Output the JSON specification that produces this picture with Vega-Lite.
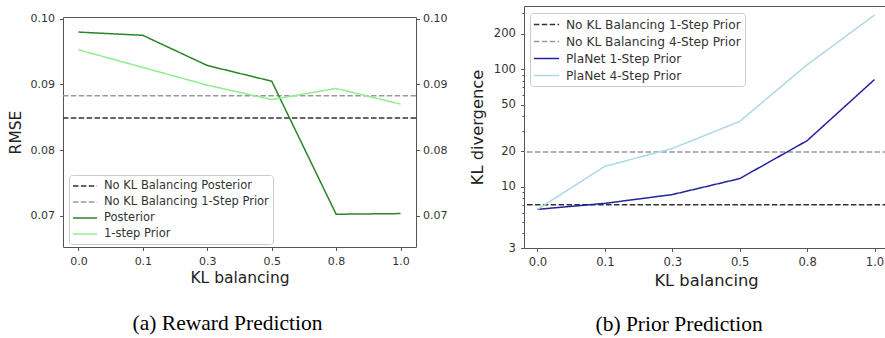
{
  "$schema": "https://vega.github.io/schema/vega-lite/v6.json",
  "padding": {"left": 7, "top": 5, "right": 0, "bottom": 0},
  "background": "white",
  "datasets": {
    "rmse_base": [
      {"series": "No KL Balancing Posterior", "value": 0.0849},
      {"series": "No KL Balancing 1-Step Prior", "value": 0.0883}
    ],
    "rmse": [
      {"series": "Posterior", "kl": "0.0", "value": 0.0980},
      {"series": "Posterior", "kl": "0.1", "value": 0.0975},
      {"series": "Posterior", "kl": "0.3", "value": 0.0929},
      {"series": "Posterior", "kl": "0.5", "value": 0.0905},
      {"series": "Posterior", "kl": "0.8", "value": 0.0702},
      {"series": "Posterior", "kl": "1.0", "value": 0.0703},
      {"series": "1-step Prior", "kl": "0.0", "value": 0.0953},
      {"series": "1-step Prior", "kl": "0.1", "value": 0.0926},
      {"series": "1-step Prior", "kl": "0.3", "value": 0.0899},
      {"series": "1-step Prior", "kl": "0.5", "value": 0.0877},
      {"series": "1-step Prior", "kl": "0.8", "value": 0.0894},
      {"series": "1-step Prior", "kl": "1.0", "value": 0.0870}
    ],
    "kl_base": [
      {"series": "No KL Balancing 1-Step Prior", "value": 7.0},
      {"series": "No KL Balancing 4-Step Prior", "value": 19.7}
    ],
    "kl": [
      {"series": "PlaNet 1-Step Prior", "kl": "0.0", "value": 6.4},
      {"series": "PlaNet 1-Step Prior", "kl": "0.1", "value": 7.2},
      {"series": "PlaNet 1-Step Prior", "kl": "0.3", "value": 8.55},
      {"series": "PlaNet 1-Step Prior", "kl": "0.5", "value": 11.7},
      {"series": "PlaNet 1-Step Prior", "kl": "0.8", "value": 24.6},
      {"series": "PlaNet 1-Step Prior", "kl": "1.0", "value": 81.6},
      {"series": "PlaNet 4-Step Prior", "kl": "0.0", "value": 6.4},
      {"series": "PlaNet 4-Step Prior", "kl": "0.1", "value": 14.9},
      {"series": "PlaNet 4-Step Prior", "kl": "0.3", "value": 21.1},
      {"series": "PlaNet 4-Step Prior", "kl": "0.5", "value": 35.9},
      {"series": "PlaNet 4-Step Prior", "kl": "0.8", "value": 109},
      {"series": "PlaNet 4-Step Prior", "kl": "1.0", "value": 289}
    ]
  },
  "spacing": 20,
  "resolve": {
    "scale": {"color": "independent", "strokeDash": "independent", "x": "independent", "y": "independent"},
    "legend": {"color": "independent", "strokeDash": "independent"}
  },
  "hconcat": [
    {
      "title": {"text": "(a) Reward Prediction", "orient": "bottom", "offset": 26},
      "spacing": 0,
      "vconcat": [
        {
          "width": 353,
          "height": 6,
          "view": {"stroke": null},
          "data": {"values": [{}]},
          "mark": {"type": "point", "opacity": 0},
          "encoding": {}
        },
        {
          "width": 353,
          "height": 230,
          "resolve": {"axis": {"y": "independent"}},
          "layer": [
            {
              "data": {"name": "rmse_base"},
              "mark": {"type": "rule", "strokeWidth": 1.5},
              "encoding": {
                "y": {"field": "value", "type": "quantitative",
                  "scale": {"domain": [0.0652, 0.1003], "zero": false, "nice": false},
                  "axis": {"orient": "left", "title": "RMSE", "values": [0.07, 0.08, 0.09, 0.1], "format": ".2f", "titlePadding": 7}},
                "color": {"field": "series", "type": "nominal",
                  "scale": {"domain": ["No KL Balancing Posterior", "No KL Balancing 1-Step Prior", "Posterior", "1-step Prior"], "range": ["#333333", "#999999", "#2a842a", "#90ee90"]},
                  "legend": {"title": null, "orient": "none", "legendX": 6, "legendY": 169}},
                "strokeDash": {"field": "series", "type": "nominal",
                  "scale": {"domain": ["No KL Balancing Posterior", "No KL Balancing 1-Step Prior", "Posterior", "1-step Prior"], "range": [[5.5, 2.4], [5.5, 2.4], [1, 0], [1, 0]]},
                  "legend": {"title": null, "orient": "none", "legendX": 6, "legendY": 169}}
              }
            },
            {
              "data": {"name": "rmse"},
              "mark": {"type": "line", "strokeWidth": 1.5},
              "encoding": {
                "x": {"field": "kl", "type": "ordinal", "sort": ["0.0", "0.1", "0.3", "0.5", "0.8", "1.0"],
                  "scale": {"type": "point", "padding": 0.24},
                  "axis": {"title": "KL balancing", "labelAngle": 0}},
                "y": {"field": "value", "type": "quantitative",
                  "scale": {"domain": [0.0652, 0.1003], "zero": false, "nice": false},
                  "axis": {"orient": "right", "title": null, "values": [0.07, 0.08, 0.09, 0.1], "format": ".2f", "labelPadding": 3}},
                "color": {"field": "series", "type": "nominal",
                  "scale": {"domain": ["No KL Balancing Posterior", "No KL Balancing 1-Step Prior", "Posterior", "1-step Prior"], "range": ["#333333", "#999999", "#2a842a", "#90ee90"]},
                  "legend": {"title": null, "orient": "none", "legendX": 6, "legendY": 169}},
                "strokeDash": {"field": "series", "type": "nominal",
                  "scale": {"domain": ["No KL Balancing Posterior", "No KL Balancing 1-Step Prior", "Posterior", "1-step Prior"], "range": [[5.5, 2.4], [5.5, 2.4], [1, 0], [1, 0]]},
                  "legend": {"title": null, "orient": "none", "legendX": 6, "legendY": 169}}
              }
            }
          ]
        }
      ]
    },
    {
      "title": {"text": "(b) Prior Prediction", "orient": "bottom", "offset": 26, "frame": "bounds"},
      "width": 364,
      "height": 242,
      "layer": [
        {
          "data": {"name": "kl_base"},
          "mark": {"type": "rule", "strokeWidth": 1.5},
          "encoding": {
            "y": {"field": "value", "type": "quantitative",
              "scale": {"type": "log", "domain": [3, 345], "nice": false},
              "axis": {"title": "KL divergence", "titlePadding": 8, "titleFontSize": 16.3, "labelFontSize": 11.6,
                "values": [3, 4, 5, 6, 7, 8, 9, 10, 20, 30, 40, 50, 60, 70, 80, 90, 100, 200, 300],
                "labelOverlap": false,
                "labelExpr": "indexof([3,10,20,50,100,200], datum.value) >= 0 ? format(datum.value, 'd') : ''",
                "tickSize": {"condition": {"test": "indexof([3,10,20,50,100,200], datum.value) >= 0", "value": 3.5}, "value": 2}}},
            "color": {"field": "series", "type": "nominal",
              "scale": {"domain": ["No KL Balancing 1-Step Prior", "No KL Balancing 4-Step Prior", "PlaNet 1-Step Prior", "PlaNet 4-Step Prior"], "range": ["#333333", "#999999", "#2323a0", "#add8e6"]},
              "legend": {"title": null, "orient": "none", "legendX": 6, "legendY": 7, "labelFontSize": 12.2, "symbolSize": 160}},
            "strokeDash": {"field": "series", "type": "nominal",
              "scale": {"domain": ["No KL Balancing 1-Step Prior", "No KL Balancing 4-Step Prior", "PlaNet 1-Step Prior", "PlaNet 4-Step Prior"], "range": [[5.5, 2.4], [5.5, 2.4], [1, 0], [1, 0]]},
              "legend": {"title": null, "orient": "none", "legendX": 6, "legendY": 7, "labelFontSize": 12.2, "symbolSize": 160}}
          }
        },
        {
          "data": {"name": "kl"},
          "mark": {"type": "line", "strokeWidth": 1.5},
          "encoding": {
            "x": {"field": "kl", "type": "ordinal", "sort": ["0.0", "0.1", "0.3", "0.5", "0.8", "1.0"],
              "scale": {"type": "point", "padding": 0.2},
              "axis": {"title": "KL balancing", "labelAngle": 0, "titleFontSize": 16.3, "labelFontSize": 11.6}},
            "y": {"field": "value", "type": "quantitative",
              "scale": {"type": "log", "domain": [3, 345], "nice": false}},
            "color": {"field": "series", "type": "nominal",
              "scale": {"domain": ["No KL Balancing 1-Step Prior", "No KL Balancing 4-Step Prior", "PlaNet 1-Step Prior", "PlaNet 4-Step Prior"], "range": ["#333333", "#999999", "#2323a0", "#add8e6"]},
              "legend": {"title": null, "orient": "none", "legendX": 6, "legendY": 7, "labelFontSize": 12.2, "symbolSize": 160}},
            "strokeDash": {"field": "series", "type": "nominal",
              "scale": {"domain": ["No KL Balancing 1-Step Prior", "No KL Balancing 4-Step Prior", "PlaNet 1-Step Prior", "PlaNet 4-Step Prior"], "range": [[5.5, 2.4], [5.5, 2.4], [1, 0], [1, 0]]},
              "legend": {"title": null, "orient": "none", "legendX": 6, "legendY": 7, "labelFontSize": 12.2, "symbolSize": 160}}
          }
        }
      ]
    }
  ],
  "config": {
    "view": {"stroke": "#555555", "strokeWidth": 1},
    "axis": {
      "domain": false, "grid": false,
      "tickColor": "#555555", "tickSize": 3.5, "tickWidth": 1,
      "labelFont": "DejaVu Sans", "labelFontSize": 11, "labelColor": "#333333", "labelPadding": 5,
      "titleFont": "DejaVu Sans", "titleFontSize": 15.5, "titleFontWeight": "normal", "titleColor": "#222222", "titlePadding": 4
    },
    "legend": {
      "symbolType": "M-2,0H2", "symbolSize": 144, "symbolStrokeWidth": 1.5, "symbolOffset": 5,
      "labelFont": "DejaVu Sans", "labelFontSize": 11.5, "labelColor": "#333333", "labelOffset": 12, "labelLimit": 400,
      "padding": 4, "rowPadding": 3, "strokeColor": "#cccccc", "cornerRadius": 3, "fillColor": "rgba(255,255,255,0.85)"
    },
    "title": {"font": "Liberation Serif", "fontSize": 21.5, "fontWeight": "normal", "color": "#000000", "anchor": "middle"}
  }
}
